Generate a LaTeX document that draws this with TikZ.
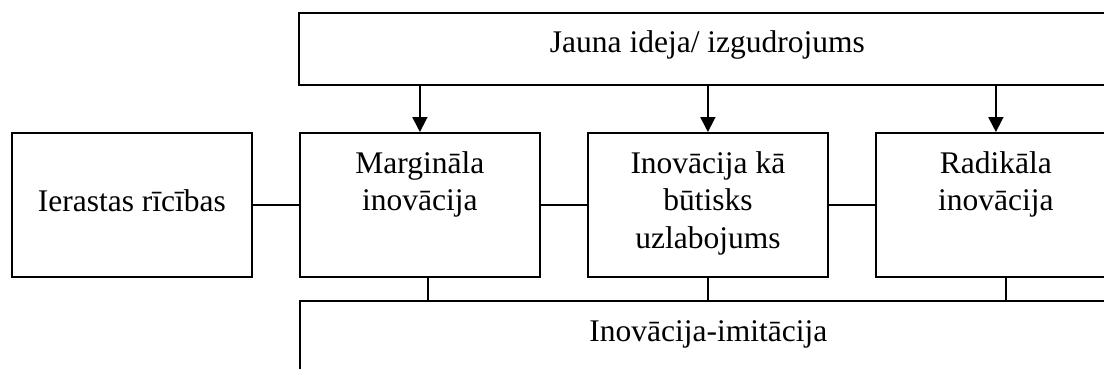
\documentclass[tikz,border=0pt]{standalone}
\usepackage{fontspec}
\setmainfont{Liberation Serif}
\usetikzlibrary{arrows.meta}
\begin{document}
\begin{tikzpicture}[x=1pt,y=1pt,
  box/.style={draw, line width=1.8pt, rectangle, inner sep=0pt, anchor=north west},
  lbl/.style={font=\fontsize{31.5}{37.5}\selectfont, align=center, inner sep=0pt, anchor=north},
  link/.style={line width=1.8pt},
  arr/.style={line width=1.8pt, -{Triangle[length=15pt,width=15pt]}}]
\useasboundingbox (0,0) rectangle (1104,-368);
\clip (0,0) rectangle (1104,-368);
% boxes
\node[box, minimum width=817pt, minimum height=72pt] (top) at (298,-12) {};
\node[box, minimum width=240pt, minimum height=144pt] (ier) at (11,-132) {};
\node[box, minimum width=240pt, minimum height=144pt] (mar) at (299,-132) {};
\node[box, minimum width=240pt, minimum height=144pt] (mid) at (587,-132) {};
\node[box, minimum width=240pt, minimum height=144pt] (rad) at (875,-132) {};
\node[box, minimum width=817pt, minimum height=72pt] (bot) at (299,-300) {};
% labels
\node[lbl] (topt) at ([yshift=-18.5pt]top.north) {Jauna ideja/ izgudrojums};
\node[lbl] (iert) at ([yshift=-57pt]ier.north) {Ierastas rīcības};
\node[lbl] (mart) at ([yshift=-19pt]mar.north) {Margināla\\inovācija};
\node[lbl] (midt) at ([yshift=-19pt]mid.north) {Inovācija kā\\būtisks\\uzlabojums};
\node[lbl] (radt) at ([yshift=-19pt]rad.north) {Radikāla\\inovācija};
\node[lbl] (bott) at ([yshift=-20.5pt]bot.north) {Inovācija-imitācija};
% horizontal links
\draw[link] (ier.east) -- (mar.west);
\draw[link] (mar.east) -- (mid.west);
\draw[link] (mid.east) -- (rad.west);
% arrows from top
\draw[arr] (mar.north |- top.south) -- (mar.north);
\draw[arr] (mid.north |- top.south) -- (mid.north);
\draw[arr] (rad.north |- top.south) -- (rad.north);
% links to bottom
\coordinate (m1) at ([xshift=8pt]mar.south);
\coordinate (r1) at ([xshift=10pt]rad.south);
\draw[link] (m1) -- (m1 |- bot.north);
\draw[link] (mid.south) -- (mid.south |- bot.north);
\draw[link] (r1) -- (r1 |- bot.north);
\end{tikzpicture}
\end{document}
